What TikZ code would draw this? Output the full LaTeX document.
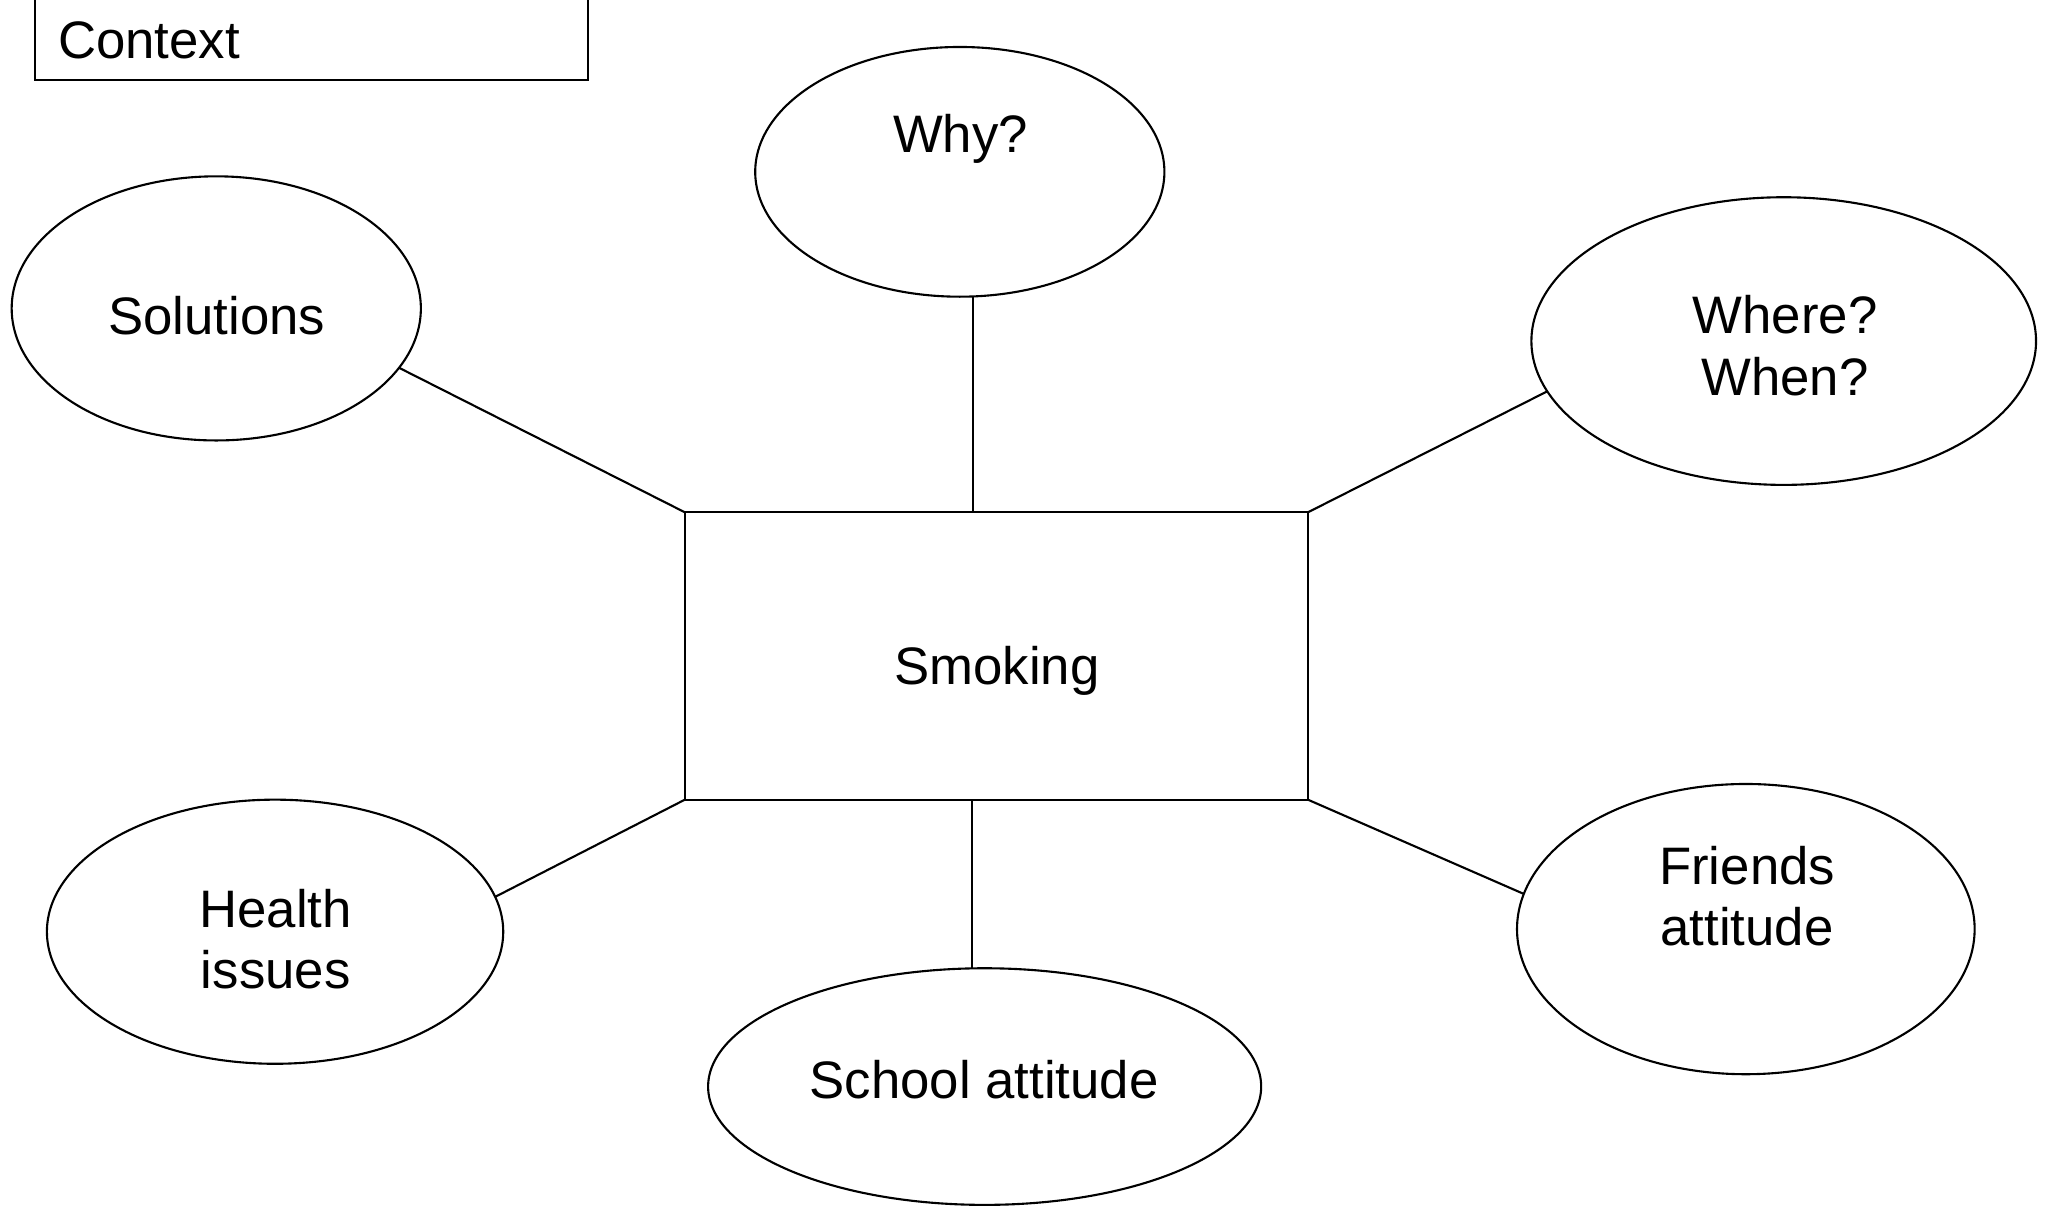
\documentclass[tikz,border=0pt]{standalone}
\usepackage{fontspec}
\setmainfont{Liberation Sans}
\usetikzlibrary{shapes.geometric}
\begin{document}
\begin{tikzpicture}[x=0.0130676cm, y=-0.0130676cm,
    every node/.style={font=\fontsize{15}{17.5}\selectfont},
    bubble/.style={ellipse, draw, line width=0.6pt, inner sep=0pt, outer sep=0pt},
    box/.style={rectangle, draw, line width=0.6pt, inner sep=0pt, outer sep=0pt},
    txt/.style={inner sep=0pt, text depth=0pt, align=center},
    link/.style={line width=0.6pt}]
  \useasboundingbox (0,0) rectangle (1568,924);

  % heading box, cut by the top edge
  \node[box, minimum width=5.528cm, minimum height=0.928cm] (ctx) at (238.5,25.5) {};
  \node[txt, anchor=west] (ctxlabel) at (44,31) {Context};

  % central topic
  \node[box, minimum width=6.233cm, minimum height=2.875cm] (smoke) at (762.5,502) {};
  \node[txt] (smokelabel) at (763,509) {Smoking};

  % surrounding bubbles
  \node[bubble, minimum width=4.090cm, minimum height=2.496cm] (why) at (734.5,131.5) {};
  \node[txt] (whylabel) at (735,102) {Why?};

  \node[bubble, minimum width=4.090cm, minimum height=2.640cm] (sol) at (165.5,236) {};
  \node[txt] (sollabel) at (166,241) {Solutions};

  \node[bubble, minimum width=5.044cm, minimum height=2.875cm] (where) at (1365,261) {};
  \node[txt] (wherelabel) at (1366,264.5) {Where?\\When?};

  \node[bubble, minimum width=4.561cm, minimum height=2.640cm] (health) at (210.5,713) {};
  \node[txt] (healthlabel) at (211,718.5) {Health\\issues};

  \node[bubble, minimum width=5.528cm, minimum height=2.365cm] (school) at (753.5,831.5) {};
  \node[txt] (schoollabel) at (753,826) {School attitude};

  \node[bubble, minimum width=4.574cm, minimum height=2.901cm] (friends) at (1336,711) {};
  \node[txt] (friendslabel) at (1337,685.5) {Friends\\attitude};

  % connectors
  \draw[link] (sol.-18.25) -- (smoke.north west);
  \draw[link] (why.-84.3) -- (why.-84.3 |- smoke.north);
  \draw[link] (where.192.2) -- (smoke.north east);
  \draw[link] (health.9.2) -- (smoke.south west);
  \draw[link] (school.96) -- (school.96 |- smoke.south);
  \draw[link] (friends.171.6) -- (smoke.south east);
\end{tikzpicture}
\end{document}
